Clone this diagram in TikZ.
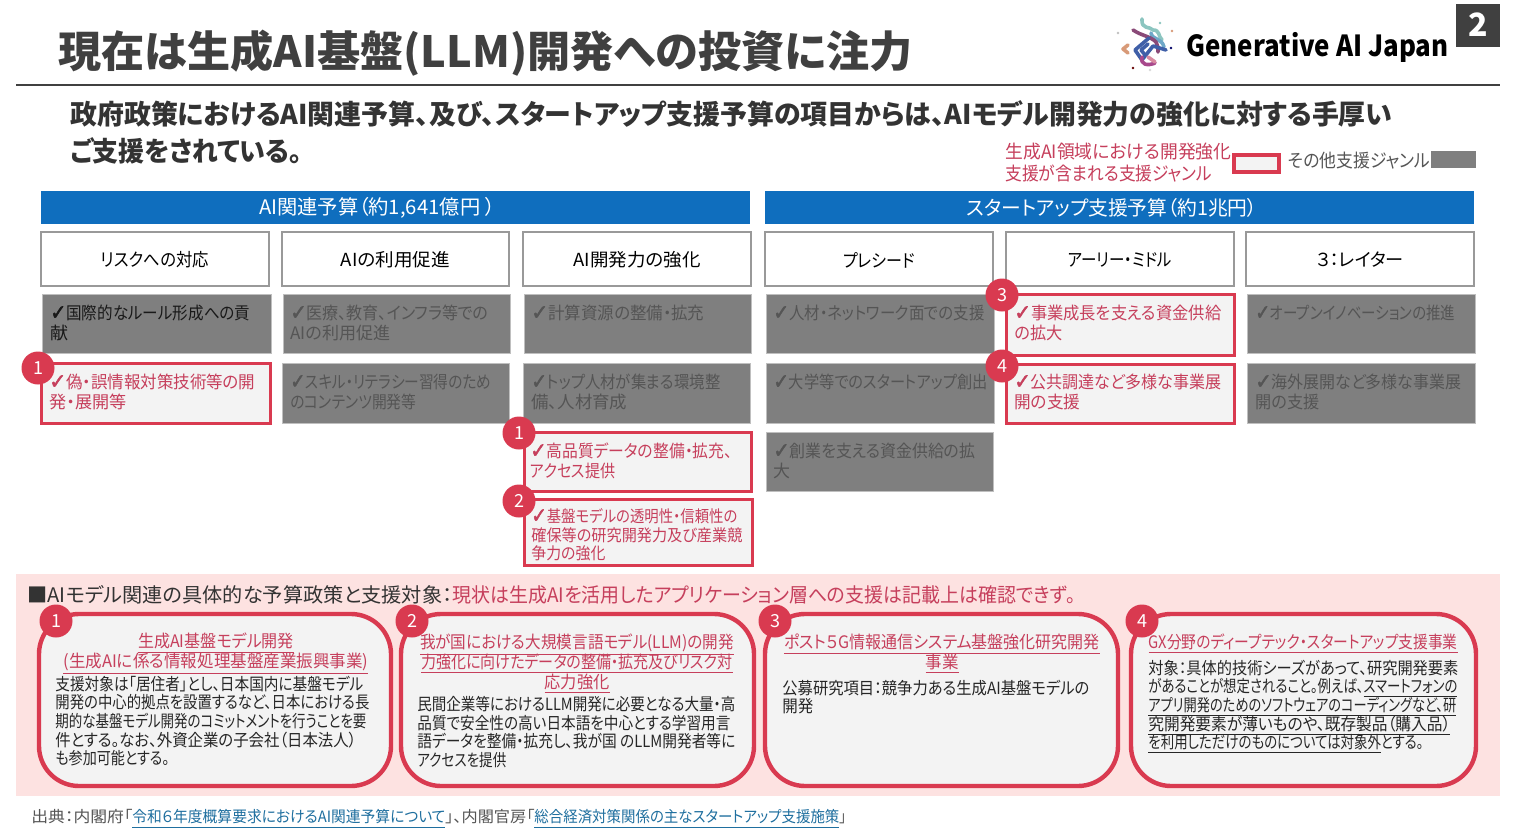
\documentclass[tikz,border=0pt]{standalone}
\usepackage{fontspec}
\usepackage{graphicx}
\setmainfont[RawFeature={+palt}]{Noto Sans CJK JP}
\newfontfamily\chkfont[FakeBold=2.5]{DejaVu Sans}
\definecolor{redl}{HTML}{D93A50}
\definecolor{redt}{HTML}{C63F5C}
\definecolor{dark}{HTML}{404040}
\definecolor{grayf}{HTML}{7F7F7F}
\definecolor{grayt}{HTML}{555555}
\definecolor{lightf}{HTML}{F3F3F3}
\definecolor{pinkf}{HTML}{FDE2E1}
\definecolor{blueh}{HTML}{0F6EBE}
\definecolor{linkc}{HTML}{1F6F9F}
\definecolor{logoteal}{HTML}{8CC5C0}
\definecolor{logosky}{HTML}{6FA8C8}
\definecolor{logoplum}{HTML}{8A4A78}
\definecolor{logoblue}{HTML}{3F5FA8}
\definecolor{logomag}{HTML}{A8488C}
\definecolor{logopink}{HTML}{D88AA0}
\definecolor{logoorg}{HTML}{D89A78}
\newcommand{\ck}{{\chkfont\fontsize{10.5}{10}\selectfont ✓}}
\newcommand{\F}[2]{\resizebox{\dimexpr #1pt/2\relax}{\height}{#2}}
\newcommand{\ulr}[1]{\underline{#1}}
\tikzset{
  x=0.5pt,y=-0.5pt,
  tb/.style={anchor=west,inner sep=0pt,align=left,font=\fontsize{8.6}{10}\selectfont},
  tbc/.style={anchor=center,inner sep=0pt,align=center,font=\fontsize{8.6}{10}\selectfont},
  bodyt/.style={tb,text=black!85,font=\fontsize{8.4}{9.3}\selectfont},
  gtxt/.style={tb,text=grayt},
  rtxt/.style={tb,text=redt},
  cat/.style={draw=black!40,line width=0.7pt,fill=white},
  graybox/.style={draw=black!25,line width=0.4pt,fill=grayf},
  redbox/.style={draw=redl,line width=1.5pt,fill=lightf},
  card/.style={draw=redl,line width=2.2pt,fill=lightf,rounded corners=20pt},
  badge/.style={circle,fill=redl,text=white,inner sep=0pt,minimum size=16.5pt,font=\fontsize{9}{9}\selectfont},
  head/.style={fill=blueh,inner sep=0pt},
}
\newcommand{\bx}[5]{\path[#1] (#2,#3) rectangle (#4,#5);}
\begin{document}
\begin{tikzpicture}
\lineskiplimit=-20pt
\useasboundingbox (0,0) rectangle (1527,835);
\fill[white] (0,0) rectangle (1527,835);
% title
\node[anchor=west,inner sep=0pt,text=dark,font=\fontsize{21.5}{24}\selectfont\bfseries] (title) at (58,53) {\F{854}{現在は生成AI基盤(LLM)開発への投資に注力}};
\coordinate (ruleL) at (16,85); \coordinate (ruleR) at (1500,85);
\draw[dark,line width=1pt] (ruleL) -- (ruleR);
\fill[dark] (1456,4) rectangle (1500,47);
\node[text=white,font=\fontsize{16}{16}\selectfont\bfseries,inner sep=0pt] (pagenum) at (1478,25) {2};
% logo
\node[anchor=west,inner sep=0pt,text=black,font=\fontsize{14.5}{14}\selectfont\bfseries] (logotext) at (1186,47) {\F{262}{Generative AI Japan}};
\begin{scope}[line cap=round,line join=round,line width=1.8pt]
\draw[logoteal] (1142,19) .. controls (1141,30) and (1150,26) .. (1153,30) .. controls (1160,30) and (1158,36) .. (1162,40);
\draw[logosky] (1151,33) .. controls (1152,40) and (1162,38) .. (1164,47);
\draw[logoplum] (1133,30) .. controls (1142,36) and (1150,36) .. (1156,42) .. controls (1158,45) and (1158,48) .. (1158,52);
\draw[logoblue] (1149,38) -- (1135,50) -- (1142,60) -- (1153,46) -- (1166,50);
\draw[logoblue] (1148,44) -- (1141,50) -- (1145,55);
\draw[logomag] (1142,57) .. controls (1140,65) and (1148,66) .. (1155,63);
\draw[logopink] (1148,57) -- (1155,62);
\draw[logoorg] (1128,45) -- (1123,49) -- (1128,53);
\end{scope}
\fill[black!25] (1118,33) circle (1.4);
\fill[logoorg] (1172,31) circle (1.4);
\fill[blue!40!black] (1171,48) circle (1.4);
\fill[red!40!black] (1133,68) circle (1.4);
\fill[black!15] (1150,70) circle (1.4);
\fill[logoteal] (1160,23) circle (1.4);
% subtitle
\node[anchor=west,inner sep=0pt,align=left,text=black!80,font=\fontsize{13.6}{18.4}\selectfont\bfseries] (subtitle) at (70,132) {\F{1322}{政府政策におけるAI関連予算、及び、スタートアップ支援予算の項目からは、AIモデル開発力の強化に対する手厚い}\\\F{232}{ご支援をされている。}};
% legend
\node[anchor=west,inner sep=0pt,align=left,text=redt,font=\fontsize{9.2}{11}\selectfont] (legA) at (1005,163) {\F{226}{生成AI領域における開発強化}\\\F{207}{支援が含まれる支援ジャンル}};
\path[redbox,line width=1.9pt] (1234,155) rectangle (1279,172);
\node[anchor=west,inner sep=0pt,text=grayt,font=\fontsize{9.2}{11}\selectfont] (legB) at (1288,161) {\F{142}{その他支援ジャンル}};
\fill[grayf] (1431,151) rectangle (1476,168);
% headers
\path[head] (41,191) rectangle (750,224);
\path[head] (765,191) rectangle (1474,224);
\node[text=white,font=\fontsize{10}{12}\selectfont,inner sep=0pt] (h1) at (377,208) {\F{236}{AI関連予算（約1,641億円 ）}};
\node[text=white,font=\fontsize{10}{12}\selectfont,inner sep=0pt] (h2) at (1112,208) {\F{291}{スタートアップ支援予算（約1兆円）}};
% categories
\foreach \a/\b/\t/\w/\n in {41/269/リスクへの対応/108/c1,282/509/AIの利用促進/109/c2,523/751/AI開発力の強化/127/c3,765/993/プレシード/72/c4,1006/1234/アーリー・ミドル/104/c5,1246/1474/３：レイター/88/c6}{
  \path[cat] (\a,232) rectangle (\b,286);
  \node[inner sep=0pt,font=\fontsize{9}{11}\selectfont] (\n) at ({(\a+\b)/2},260) {\F{\w}{\t}};
}
% grey boxes
\bx{graybox}{42}{294}{271}{353}
\bx{graybox}{283}{294}{510}{353}
\bx{graybox}{524}{294}{751}{353}
\bx{graybox}{766}{294}{994}{353}
\bx{graybox}{1247}{294}{1475}{353}
\bx{graybox}{282}{363}{509}{423}
\bx{graybox}{523}{363}{750}{423}
\bx{graybox}{766}{363}{994}{423}
\bx{graybox}{1247}{363}{1475}{423}
\bx{graybox}{766}{432}{993}{491}
% red boxes
\bx{redbox}{41}{363}{270}{423}
\bx{redbox}{1006}{294}{1234}{355}
\bx{redbox}{1006}{364}{1234}{423}
\bx{redbox}{524}{432}{751}{491}
\bx{redbox}{524}{499}{752}{565}
% box text
\node[tb,text=black!90] (t11) at (50,323) {\F{200}{\ck 国際的なルール形成への貢}\\\F{18}{献}};
\node[gtxt] (t12) at (290,323) {\F{198}{\ck 医療、教育、インフラ等での}\\\F{100}{AIの利用促進}};
\node[gtxt] (t13) at (531,313) {\F{173}{\ck 計算資源の整備・拡充}};
\node[gtxt] (t14) at (773,313) {\F{211}{\ck 人材・ネットワーク面での支援}};
\node[rtxt] (t15) at (1014,323) {\F{207}{\ck 事業成長を支える資金供給}\\\F{48}{の拡大}};
\node[gtxt] (t16) at (1255,313) {\F{200}{\ck オープンイノベーションの推進}};
\node[rtxt] (t21) at (49,392) {\F{206}{\ck 偽・誤情報対策技術等の開}\\\F{77}{発・展開等}};
\node[gtxt] (t22) at (290,392) {\F{201}{\ck スキル・リテラシー習得のため}\\\F{126}{のコンテンツ開発等}};
\node[gtxt] (t23) at (531,392) {\F{189}{\ck トップ人材が集まる環境整}\\\F{96}{備、人材育成}};
\node[gtxt] (t24) at (773,382) {\F{214}{\ck 大学等でのスタートアップ創出}};
\node[rtxt] (t25) at (1014,392) {\F{207}{\ck 公共調達など多様な事業展}\\\F{66}{開の支援}};
\node[gtxt] (t26) at (1255,392) {\F{206}{\ck 海外展開など多様な事業展}\\\F{64}{開の支援}};
\node[rtxt] (t33) at (530,461) {\F{202}{\ck 高品質データの整備・拡充、}\\\F{85}{アクセス提供}};
\node[gtxt] (t34) at (773,461) {\F{202}{\ck 創業を支える資金供給の拡}\\\F{17}{大}};
\node[tb,text=redt,font=\fontsize{8.2}{9.3}\selectfont] (t43) at (531,535) {\F{206}{\ck 基盤モデルの透明性・信頼性の}\\\F{211}{確保等の研究開発力及び産業競}\\\F{74}{争力の強化}};
% badges
\node[badge] (b1) at (38,368) {1};
\node[badge] (b2) at (519,433) {1};
\node[badge] (b3) at (519,501) {2};
\node[badge] (b4) at (1002,295) {3};
\node[badge] (b5) at (1002,366) {4};
% panel
\fill[pinkf] (16,574) rectangle (1500,796);
\node[anchor=west,inner sep=0pt,font=\fontsize{10}{12}\selectfont,text=black!80] (panelhead) at (27,595) {\F{425}{■AIモデル関連の具体的な予算政策と支援対象：}\textcolor{redt}{\F{623}{現状は生成AIを活用したアプリケーション層への支援は記載上は確認できず。}}};
% cards
\path[card] (39,614) rectangle (391,786);
\path[card] (401,614) rectangle (754,786);
\path[card] (765,614) rectangle (1118,786);
\path[card] (1131,614) rectangle (1476,786);
\node[badge] (n1) at (56,621) {1};
\node[badge] (n2) at (412,621) {2};
\node[badge] (n3) at (775,621) {3};
\node[badge] (n4) at (1142,621) {4};
% card text
\node[tbc,text=redt] (ct1) at (216,654) {\F{156}{\ulr{生成AI基盤モデル開発}}\\\F{305}{\ulr{(生成AIに係る情報処理基盤産業振興事業)}}};
\node[bodyt] (cb1) at (55,721) {\F{308}{支援対象は「居住者」とし、日本国内に基盤モデル}\\\F{314}{開発の中心的拠点を設置するなど、日本における長}\\\F{311}{期的な基盤モデル開発のコミットメントを行うことを要}\\\F{301}{件とする。なお、外資企業の子会社（日本法人）}\\\F{114}{も参加可能とする。}};
\node[tbc,text=redt] (ct2) at (577,664) {\F{314}{\ulr{我が国における大規模言語モデル(LLM)の開発}}\\\F{311}{\ulr{力強化に向けたデータの整備・拡充及びリスク対}}\\\F{65}{\ulr{応力強化}}};
\node[bodyt] (cb2) at (417,732) {\F{318}{民間企業等におけるLLM開発に必要となる大量・高}\\\F{313}{品質で安全性の高い日本語を中心とする学習用言}\\\F{318}{語データを整備・拡充し、我が国 のLLM開発者等に}\\\F{89}{アクセスを提供}};
\node[tbc,text=redt] (ct3) at (942,654) {\F{316}{\ulr{ポスト５G情報通信システム基盤強化研究開発}}\\\F{33}{\ulr{事業}}};
\node[bodyt] (cb3) at (782,697) {\F{307}{公募研究項目：競争力ある生成AI基盤モデルの}\\\F{31}{開発}};
\node[tbc,text=redt] (ct4) at (1303,644) {\F{309}{\ulr{GX分野のディープテック・スタートアップ支援事業}}};
\node[bodyt] (cb4) at (1148,707) {\F{310}{対象：具体的技術シーズがあって、研究開発要素}\\\F{309}{があることが想定されること。例えば、\underline{スマートフォンの}}\\\F{308}{\underline{アプリ開発のためのソフトウェアのコーディングなど、研}}\\\F{302}{\underline{究開発要素が薄いものや、既存製品（購入品）}}\\\F{275}{\underline{を利用しただけのものについては対象外}とする。}};
% footer
\node[anchor=west,inner sep=0pt,text=grayt,font=\fontsize{7.8}{9}\selectfont] (footer) at (31,819) {\F{101}{出典：内閣府「}\textcolor{linkc}{\F{313}{\underline{令和６年度概算要求におけるAI関連予算について}}}\F{89}{」、内閣官房「}\textcolor{linkc}{\F{305}{\underline{総合経済対策関係の主なスタートアップ支援施策}}}\F{7}{」}};
\end{tikzpicture}
\end{document}
